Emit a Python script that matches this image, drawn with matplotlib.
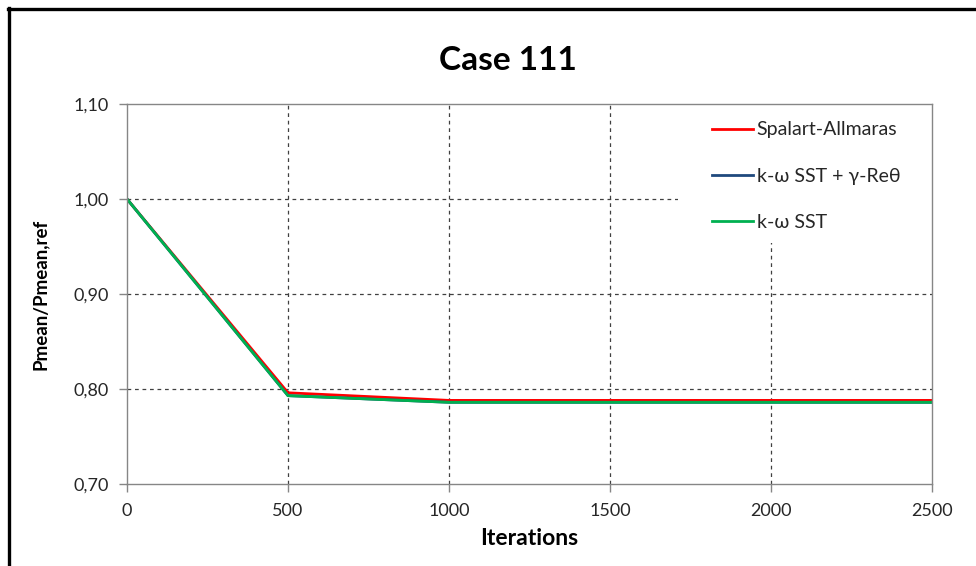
import matplotlib
matplotlib.use("Agg")
import matplotlib.pyplot as plt
from matplotlib.lines import Line2D
from matplotlib.patches import Rectangle
from matplotlib.ticker import FuncFormatter

plt.rcParams['font.family'] = ['Lato', 'DejaVu Sans']

iterations = [0, 500, 1000, 1500, 2000, 2500]
spalart = [1.000, 0.796, 0.788, 0.788, 0.788, 0.788]
sst_gamma = [1.000, 0.793, 0.786, 0.786, 0.786, 0.786]
sst = [1.000, 0.793, 0.786, 0.786, 0.786, 0.786]
labels = ["Spalart-Allmaras", "k-ω SST + γ-Reθ", "k-ω SST"]
colors = ["#FF0000", "#1F497D", "#00B050"]
x_ticks = [0, 500, 1000, 1500, 2000, 2500]
y_ticks = [0.70, 0.80, 0.90, 1.00, 1.10]

W, H = 976, 566
fig = plt.figure(figsize=(W/100, H/100), dpi=100)
L, R, T, B = 127, 932, 104, 484
ax = fig.add_axes([L/W, 1-B/H, (R-L)/W, (B-T)/H])

for series, lab, col in zip([spalart, sst_gamma, sst], labels, colors):
    ax.plot(iterations, series, color=col, lw=2.0, label=lab, zorder=3)

ax.set_xlim(0, 2500)
ax.set_ylim(0.70, 1.10)
ax.set_xticks(x_ticks)
ax.set_yticks(y_ticks)
ax.yaxis.set_major_formatter(FuncFormatter(lambda v, p: f"{v:.2f}".replace('.', ',')))
ax.xaxis.set_major_formatter(FuncFormatter(lambda v, p: f"{int(v)}"))

gc = "#404040"
for xv in x_ticks[1:-1]:
    ax.axvline(xv, color=gc, lw=0.9, ls=(0, (3, 3)), zorder=1)
for yv in y_ticks[1:-1]:
    ax.axhline(yv, color=gc, lw=0.9, ls=(0, (3, 3)), zorder=1)

# white legend area covering gridlines
ax.add_patch(Rectangle(((678-L)/(R-L), 1-(243-T)/(B-T)), (R-678)/(R-L), (243-T)/(B-T),
                       transform=ax.transAxes, facecolor='white', edgecolor='none', zorder=2))

for s in ax.spines.values():
    s.set_color("#868686")
    s.set_linewidth(1.0)
    s.set_zorder(4)
ax.tick_params(axis='both', which='major', direction='out', length=6, width=1,
               color="#868686", labelsize=13, labelcolor="#262626")
ax.tick_params(axis='y', pad=7)
ax.tick_params(axis='x', pad=8)

ax.set_xlabel("Iterations", fontsize=16.5, fontweight='bold', labelpad=6)
ax.set_ylabel("Pmean/Pmean,ref", fontsize=13.5, fontweight='bold', labelpad=18)
fig.text(0.5 + 20/W, 1-60/H, "Case 111", ha='center', va='center', fontsize=24, fontweight='bold')

leg = ax.legend(loc='upper left', bbox_to_anchor=((712-L)/(R-L), 1-(121.5-T)/(B-T)),
                frameon=False, fontsize=14, handlelength=2.1, handletextpad=0.2,
                labelspacing=1.5, borderpad=0, borderaxespad=0)
leg.set_zorder(5)
for t in leg.get_texts():
    t.set_color("#262626")

fig.add_artist(Line2D([8/W, 1], [1-8.5/H, 1-8.5/H], color='black', lw=2.4, transform=fig.transFigure))
fig.add_artist(Line2D([8.5/W, 8.5/W], [0, 1-7.5/H], color='black', lw=2.4, transform=fig.transFigure))

fig.savefig("out.png", dpi=100)
